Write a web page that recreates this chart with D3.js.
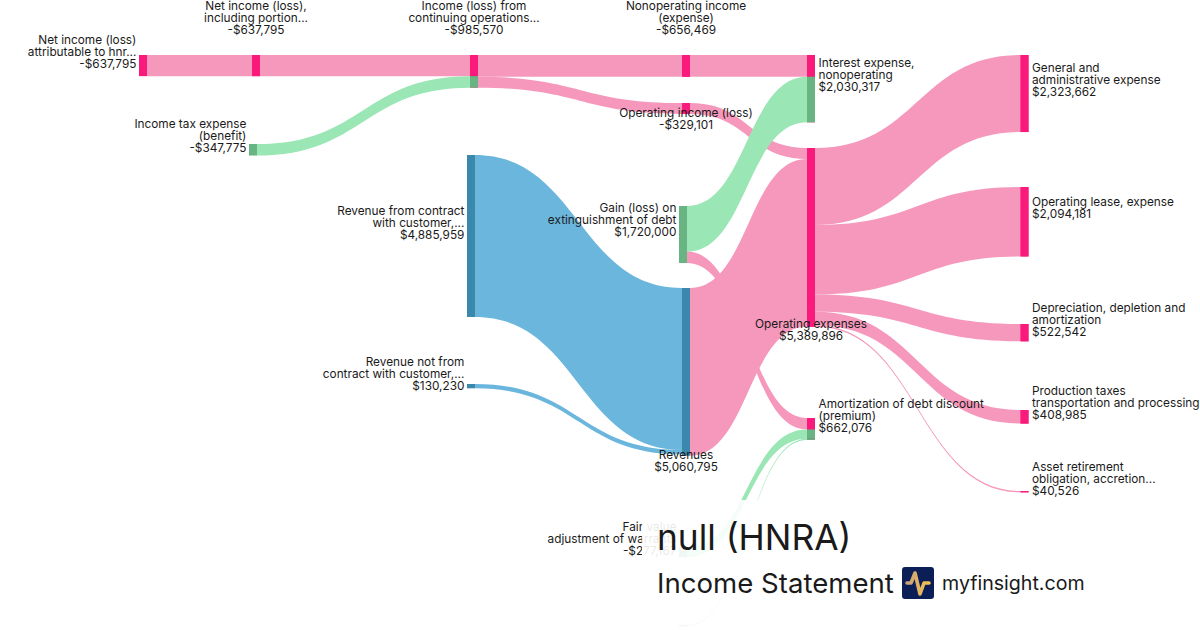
<!DOCTYPE html>
<html>
<head>
<meta charset="utf-8">
<script src="https://cdn.jsdelivr.net/npm/d3@7"></script>
<style>
  html, body { margin: 0; padding: 0; background: #fff; }
  svg { display: block; }
  text { font-family: Inter, "Noto Sans", sans-serif; fill: #1a1a1a; }
</style>
</head>
<body>
<svg id="chart" width="1200" height="630"></svg>
<script>
// node values, in USD
const nodeIds = ['attrib', 'incl', 'tax', 'cont', 'contract', 'notContract', 'nonop', 'opIncome', 'gain', 'revenues', 'fairValue', 'other', 'interest', 'opExpenses', 'amort', 'ga', 'lease', 'da', 'production', 'aro'];
const nodeValues = [637795, 637795, 347775, 985570, 4885959, 130230, 656469, 329101, 1720000, 5060795, 277167, 38757, 2030317, 5389896, 662076, 2323662, 2094181, 522542, 408985, 40526];
const nodeLabels = [
  ['Net income (loss)', 'attributable to hnr...', '-$637,795'],
  ['Net income (loss),', 'including portion...', '-$637,795'],
  ['Income tax expense', '(benefit)', '-$347,775'],
  ['Income (loss) from', 'continuing operations...', '-$985,570'],
  ['Revenue from contract', 'with customer,...', '$4,885,959'],
  ['Revenue not from', 'contract with customer,...', '$130,230'],
  ['Nonoperating income', '(expense)', '-$656,469'],
  ['Operating income (loss)', '-$329,101'],
  ['Gain (loss) on', 'extinguishment of debt', '$1,720,000'],
  ['Revenues', '$5,060,795'],
  ['Fair value', 'adjustment of warrants', '-$277,167'],
  [],
  ['Interest expense,', 'nonoperating', '$2,030,317'],
  ['Operating expenses', '$5,389,896'],
  ['Amortization of debt discount', '(premium)', '$662,076'],
  ['General and', 'administrative expense', '$2,323,662'],
  ['Operating lease, expense', '$2,094,181'],
  ['Depreciation, depletion and', 'amortization', '$522,542'],
  ['Production taxes', 'transportation and processing', '$408,985'],
  ['Asset retirement', 'obligation, accretion...', '$40,526']
];
const nodeKinds = ['loss', 'loss', 'gain', 'loss', 'rev', 'rev', 'loss', 'loss', 'gain', 'rev', 'gain', 'gain', 'loss', 'loss', 'loss', 'loss', 'loss', 'loss', 'loss', 'loss'];

// links, drawn in this order
const linkSources = ['attrib', 'incl', 'tax', 'cont', 'cont', 'nonop', 'opIncome', 'revenues', 'gain', 'gain', 'fairValue', 'other', 'contract', 'notContract', 'opExpenses', 'opExpenses', 'opExpenses', 'opExpenses', 'opExpenses'];
const linkTargets = ['incl', 'cont', 'cont', 'nonop', 'opIncome', 'interest', 'opExpenses', 'opExpenses', 'interest', 'amort', 'amort', 'amort', 'revenues', 'revenues', 'ga', 'lease', 'da', 'production', 'aro'];
const linkValues = [637795, 637795, 347775, 656469, 329101, 656469, 329101, 5060795, 1373848, 346152, 277167, 38757, 4885959, 130230, 2323662, 2094181, 522542, 408985, 40526];
const linkKinds = ['loss', 'loss', 'gain', 'loss', 'loss', 'loss', 'loss', 'loss', 'gain', 'loss', 'gain', 'gain', 'rev', 'rev', 'loss', 'loss', 'loss', 'loss', 'loss'];

// layout: left edge and top edge of each node, label placement
const layout = {
  attrib: { x: 139, y: 55, side: 'left', dy: -23 },
  incl: { x: 252, y: 55, side: 'top' },
  tax: { x: 249, y: 144, side: 'left', dy: -28 },
  cont: { x: 470, y: 55, side: 'top' },
  contract: { x: 467, y: 155, side: 'left', dy: 48 },
  notContract: { x: 467, y: 384, side: 'left', dy: -30 },
  nonop: { x: 682, y: 55, side: 'top' },
  opIncome: { x: 682, y: 103, side: 'under', dy: 1 },
  gain: { x: 679, y: 206, side: 'left', dy: -6 },
  revenues: { x: 682, y: 288, side: 'under', dy: 1 },
  fairValue: { x: 679, y: 548, side: 'left', dy: -29 },
  other: { x: 679, y: 625, side: 'left', dy: 0 },
  interest: { x: 807, y: 55, side: 'right', dy: 0 },
  opExpenses: { x: 807, y: 148, side: 'under', dy: -1 },
  amort: { x: 807, y: 418, side: 'right', dy: -22 },
  ga: { x: 1020.5, y: 55, side: 'right', dy: 5 },
  lease: { x: 1020.5, y: 187, side: 'right', dy: 7 },
  da: { x: 1020.5, y: 324, side: 'right', dy: -24 },
  production: { x: 1020.5, y: 410, side: 'right', dy: -27 },
  aro: { x: 1020.5, y: 491, side: 'right', dy: -32 }
};

const nodeColors = { loss: '#f91a7c', gain: '#68b583', rev: '#3b88ad' };
const linkColors = { loss: '#f598bb', gain: '#9ae6b4', rev: '#6bb6dd' };
const nodeWidth = 8;
const lineHeight = 12;

const svg = d3.select('#chart');
const h = d3.scaleLinear().domain([0, 4885959]).range([0, 162]);

// ribbon: both edges of a link keep the same vertical distance
const ribbon = d3.area()
  .x(d => d.x)
  .y0(d => d.y)
  .y1(d => d.y + d.width)
  .curve(d3.curveBumpX);

const nodes = new Map(nodeIds.map((id, i) => [id, {
  id,
  value: nodeValues[i],
  lines: nodeLabels[i],
  kind: nodeKinds[i],
  ...layout[id],
  inOffset: 0,
  outOffset: 0
}]));

// stack the links on each node, in the order they are listed
const links = linkValues.map((value, i) => {
  const source = nodes.get(linkSources[i]);
  const target = nodes.get(linkTargets[i]);
  const width = h(value);
  const y0 = source.y + source.outOffset;
  const y1 = target.y + target.inOffset;
  source.outOffset += width;
  target.inOffset += width;
  return { source, target, width, y0, y1, kind: linkKinds[i] };
});

svg.append('g')
  .selectAll('path')
  .data(links)
  .join('path')
  .attr('d', d => ribbon([
    { x: d.source.x + nodeWidth, y: d.y0, width: d.width },
    { x: d.target.x, y: d.y1, width: d.width }
  ]))
  .attr('fill', d => linkColors[d.kind]);

svg.append('g')
  .selectAll('rect')
  .data([...nodes.values()])
  .join('rect')
  .attr('x', d => d.x)
  .attr('y', d => d.y)
  .attr('width', nodeWidth)
  .attr('height', d => h(d.value))
  .attr('fill', d => nodeColors[d.kind]);

// a node takes the colour of what flows into it, piece by piece
svg.append('g')
  .selectAll('rect')
  .data(links)
  .join('rect')
  .attr('x', d => d.target.x)
  .attr('y', d => d.y1)
  .attr('width', nodeWidth)
  .attr('height', d => d.width)
  .attr('fill', d => nodeColors[d.kind]);

// Add labels
const label = svg.append('g')
  .attr('font-size', 11.8)
  .selectAll('text')
  .data([...nodes.values()].filter(d => d.lines.length))
  .join('text')
  .attr('text-anchor', d => d.side === 'left' ? 'end' : d.side === 'right' ? 'start' : 'middle')
  .attr('transform', d => {
    if (d.side === 'left') return `translate(${d.x - 2.6},${d.y + d.dy})`;
    if (d.side === 'right') return `translate(${d.x + nodeWidth + 3.5},${d.y + d.dy})`;
    if (d.side === 'top') return `translate(${d.x + nodeWidth / 2},${d.y - 57})`;
    return `translate(${d.x + nodeWidth / 2},${d.y + h(d.value) - 10 + d.dy})`;
  });

label.selectAll('tspan')
  .data(d => d.lines)
  .join('tspan')
  .attr('x', 0)
  .attr('dy', lineHeight)
  .text(d => d);

// white panel behind the title, fades what runs under it
svg.append('rect')
  .attr('x', 642).attr('y', 500)
  .attr('width', 558).attr('height', 130)
  .attr('fill', '#fff').attr('opacity', 0.9);

svg.append('text').attr('x', 657).attr('y', 550).attr('font-size', 35.3).text('null (HNRA)');
svg.append('text').attr('x', 657).attr('y', 593).attr('font-size', 27.6).text('Income Statement');
svg.append('text').attr('x', 942).attr('y', 590).attr('font-size', 19.6).text('myfinsight.com');

// logo
const defs = svg.append('defs').append('linearGradient').attr('id', 'logoStroke');
defs.append('stop').attr('offset', '0%').attr('stop-color', '#c9a27c');
defs.append('stop').attr('offset', '100%').attr('stop-color', '#f5c34d');

const logo = svg.append('g').attr('transform', 'translate(902,567)');
logo.append('rect').attr('width', 32).attr('height', 32).attr('rx', 3).attr('fill', '#0b1f56');
logo.append('path')
  .attr('d', 'M5 16 H9 L13 6 L18 27 L22 16 H27')
  .attr('fill', 'none').attr('stroke', 'url(#logoStroke)').attr('stroke-width', 3.6)
  .attr('stroke-linejoin', 'round').attr('stroke-linecap', 'round');
</script>
</body>
</html>
